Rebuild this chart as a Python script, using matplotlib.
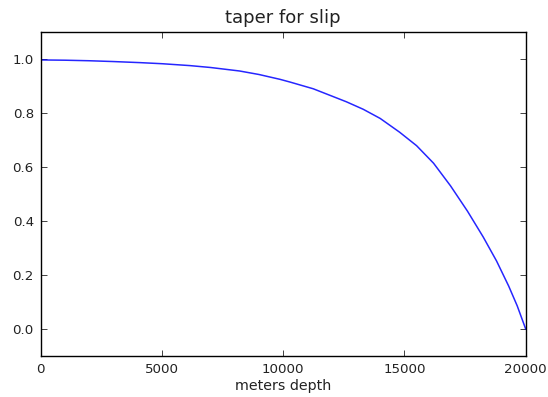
import matplotlib
matplotlib.use("Agg")
import matplotlib.pyplot as plt

# slip taper read along the fault, depth in meters
depth = [0, 1000, 2000, 3000, 4100, 5000, 6150, 7000, 8200, 9000, 9870,
         10280, 11240, 12600, 13300, 14000, 14800, 15500, 16200, 16900,
         17600, 18250, 18800, 19300, 19650, 20000]
taper = [0.998, 0.997, 0.995, 0.992, 0.988, 0.984, 0.977, 0.970, 0.957,
         0.944, 0.926, 0.916, 0.891, 0.843, 0.815, 0.781, 0.730, 0.680,
         0.615, 0.531, 0.437, 0.341, 0.252, 0.159, 0.086, 0.0]

xticks = [0, 5000, 10000, 15000, 20000]
yticks = [0.0, 0.2, 0.4, 0.6, 0.8, 1.0]

fig = plt.figure(figsize=(5.48, 3.97), dpi=100, facecolor="white")
ax = fig.add_axes([0.0743, 0.1033, 0.885, 0.815])

ax.plot(depth, taper, color="#0000ff", lw=1.1, alpha=0.85)

ax.set_xlim(0, 20000)
ax.set_ylim(-0.1, 1.1)
ax.set_xticks(xticks)
ax.set_yticks(yticks)
ax.set_xticklabels([str(t) for t in xticks])
ax.set_yticklabels(["%.1f" % t for t in yticks])
ax.tick_params(direction="in", length=4, width=0.6, top=True, right=True,
               labelsize=9.6, pad=5, colors="#222222")
for sp in ax.spines.values():
    sp.set_linewidth(1.0)
    sp.set_color("black")

ax.set_title("taper for slip", fontsize=13, pad=7, color="#222222")
ax.set_xlabel("meters depth", fontsize=10.3, labelpad=2, color="#222222")

fig.savefig("out.png", dpi=100, facecolor="white")
